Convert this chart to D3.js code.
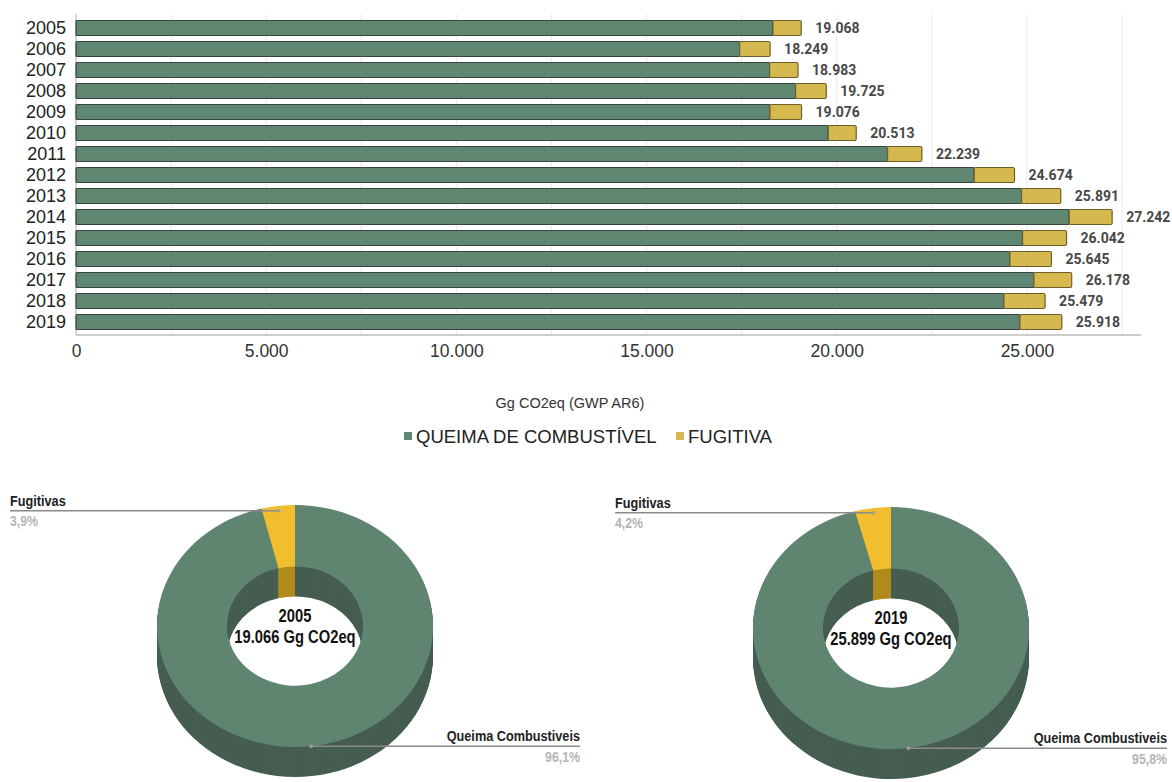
<!DOCTYPE html>
<html>
<head>
<meta charset="utf-8">
<script src="https://cdn.jsdelivr.net/npm/d3@7"></script>
<style>
  html, body { margin: 0; padding: 0; background: #fff; }
  svg { display: block; }
</style>
</head>
<body>
<svg id="chart" width="1172" height="782"></svg>
<script>
// ---------- DATA ----------
const years = ["2005","2006","2007","2008","2009","2010","2011","2012","2013","2014","2015","2016","2017","2018","2019"];
const queima = [18324, 17447, 18236, 18919, 18244, 19777, 21337, 23615, 24860, 26112, 24886, 24553, 25184, 24395, 24816];
const fugitiva = [744, 802, 747, 806, 832, 736, 902, 1059, 1031, 1130, 1156, 1092, 994, 1084, 1102];
const xTickValues = [0, 5000, 10000, 15000, 20000, 25000];
const gridValues = [0, 2500, 5000, 7500, 10000, 12500, 15000, 17500, 20000, 22500, 25000, 27500];
const seriesNames = ["QUEIMA DE COMBUSTÍVEL", "FUGITIVA"];
const axisTitle = "Gg CO2eq (GWP AR6)";

const pieYears = ["2005", "2019"];
const pieTotals = ["19.066 Gg CO2eq", "25.899 Gg CO2eq"];
const pieQueimaShare = [96.1, 95.8];
const pieFugitivaShare = [3.9, 4.2];
const pieLabels = ["Queima Combustiveis", "Fugitivas"];

// ---------- STYLE ----------
const C = {
  green: "#5f8671", yellow: "#d5b94f", barStroke: "#36443b",
  dGreenTop: "#5f8470", dGreenSide: "#465e50",
  dYellowTop: "#f1bf2d", dYellowSide: "#b08b1c"
};
const locale = d3.formatLocale({decimal: ",", thousands: ".", grouping: [3], currency: ["", ""]});
const fmt = locale.format(",d");
const sans = "Liberation Sans, Arial, sans-serif";

const svg = d3.select("#chart");

function condText(parent, x, y, txt, opts) {
  const sx = opts.sx || 0.84;
  return parent.append("text")
    .attr("transform", `translate(${x},${y}) scale(${sx},1)`)
    .attr("text-anchor", opts.anchor || "start")
    .attr("font-family", sans).attr("font-weight", opts.weight || "bold")
    .attr("font-size", opts.size).attr("fill", opts.fill)
    .text(txt);
}

// ---------- BAR CHART ----------
const x = d3.scaleLinear().domain([0, 28000]).range([76, 1141]);
const y = d3.scaleBand().domain(years).range([17.5, 332.5]).paddingInner(0.286).paddingOuter(0.143);
const plotTop = 14, plotBottom = 335;

svg.append("g").selectAll("line").data(gridValues.slice(1)).join("line")
  .attr("x1", d => x(d)).attr("x2", d => x(d))
  .attr("y1", plotTop).attr("y2", plotBottom)
  .attr("stroke", "#ebebeb").attr("stroke-width", 1);
svg.append("line").attr("x1", x(0)).attr("x2", x(0)).attr("y1", plotTop).attr("y2", plotBottom)
  .attr("stroke", "#c8c8c8").attr("stroke-width", 1.5);
svg.append("line").attr("x1", x(0)).attr("x2", x(28000)).attr("y1", plotBottom).attr("y2", plotBottom)
  .attr("stroke", "#bdbdbd").attr("stroke-width", 1.5);

const xAxis = d3.axisBottom(x).tickValues(xTickValues).tickFormat(fmt).tickSize(0).tickPadding(10);
const gx = svg.append("g").attr("transform", `translate(0,${plotBottom})`).call(xAxis);
gx.select(".domain").remove();
gx.selectAll("text").attr("font-family", sans).attr("font-size", 17.5).attr("fill", "#333");

const yAxis = d3.axisLeft(y).tickSize(0).tickPadding(10);
const gy = svg.append("g").attr("transform", `translate(${x(0)},0)`).call(yAxis);
gy.select(".domain").remove();
gy.selectAll("text").attr("font-family", sans).attr("font-size", 18).attr("fill", "#222");

const rows = years.map((yr, i) => ({yr, q: queima[i], f: fugitiva[i]}));
const bars = svg.append("g");
bars.selectAll("rect.q").data(rows).join("rect").attr("class", "q")
  .attr("x", x(0)).attr("y", d => y(d.yr))
  .attr("width", d => x(d.q) - x(0)).attr("height", y.bandwidth())
  .attr("fill", C.green).attr("stroke", C.barStroke).attr("stroke-width", 1.2).attr("rx", 1);
bars.selectAll("rect.f").data(rows).join("rect").attr("class", "f")
  .attr("x", d => x(d.q)).attr("y", d => y(d.yr))
  .attr("width", d => x(d.q + d.f) - x(d.q)).attr("height", y.bandwidth())
  .attr("fill", C.yellow).attr("stroke", "#6e5f2a").attr("stroke-width", 1.2).attr("rx", 1.5);
bars.selectAll("text").data(rows).join("text")
  .attr("x", d => x(d.q + d.f) + 14).attr("y", d => y(d.yr) + y.bandwidth() / 2)
  .attr("dy", "0.35em")
  .attr("font-family", "Roboto, sans-serif").attr("font-weight", "bold").attr("font-size", 14)
  .attr("fill", "#484848").text(d => fmt(d.q + d.f));

// axis title
svg.append("text").attr("x", 570).attr("y", 408).attr("text-anchor", "middle")
  .attr("font-family", sans).attr("font-size", 14.5).attr("fill", "#333")
  .text(axisTitle);

// legend
const legend = svg.append("g").attr("transform", "translate(0,436)");
const legItems = [{name: seriesNames[0], color: C.green, x: 404}, {name: seriesNames[1], color: C.yellow, x: 676}];
legItems.forEach(it => {
  legend.append("rect").attr("x", it.x).attr("y", -4).attr("width", 8).attr("height", 8).attr("fill", it.color);
  legend.append("text").attr("x", it.x + 12).attr("y", 0).attr("dy", "0.36em")
    .attr("font-family", sans).attr("font-size", 18.5).attr("fill", "#222")
    .text(it.name);
});

// ---------- 3D DONUTS ----------
const outerR = 138, innerR = 68, yScale = 121 / 138, depth = 30;
const pieGen = d3.pie().sort(null).value(d => d.v).startAngle(0).endAngle(2 * Math.PI);
const arcGen = d3.arc().innerRadius(innerR).outerRadius(outerR);
const donutCenters = [{cx: 295, cy: 626}, {cx: 891, cy: 628}];
const fugLabelX = [10, 615];
const queimaLabelRight = [580, 1167];
const layers = d3.range(depth, 0, -1);

pieYears.forEach((yr, i) => {
  const {cx, cy} = donutCenters[i];
  const data = [
    {name: pieLabels[0], v: pieQueimaShare[i], top: C.dGreenTop, side: C.dGreenSide},
    {name: pieLabels[1], v: pieFugitivaShare[i], top: C.dYellowTop, side: C.dYellowSide}
  ];
  const arcs = pieGen(data);
  const g = svg.append("g");
  g.selectAll("g.layer").data(layers).join("g").attr("class", "layer")
    .attr("transform", k => `translate(${cx},${cy + k}) scale(1,${yScale})`)
    .selectAll("path").data(arcs).join("path")
    .attr("d", arcGen).attr("fill", d => d.data.side);
  g.append("g").attr("transform", `translate(${cx},${cy}) scale(1,${yScale})`)
    .selectAll("path").data(arcs).join("path")
    .attr("d", arcGen).attr("fill", d => d.data.top);

  condText(g, cx, cy - 4, yr, {anchor: "middle", size: 18, fill: "#111", sx: 0.82});
  condText(g, cx, cy + 17, pieTotals[i], {anchor: "middle", size: 18, fill: "#111", sx: 0.82});

  const anchor = a => {
    const mid = (a.startAngle + a.endAngle) / 2, r = outerR * 0.96;
    return [cx + r * Math.sin(mid), cy - r * Math.cos(mid) * yScale];
  };
  const pf = anchor(arcs[1]);
  const pq = anchor(arcs[0]);
  const pctFmt = v => String(v.toFixed(1)).replace(".", ",") + "%";
  g.append("line").attr("x1", fugLabelX[i]).attr("x2", pf[0]).attr("y1", pf[1]).attr("y2", pf[1])
    .attr("stroke", "#8a8a8a").attr("stroke-width", 1.5);
  g.append("circle").attr("cx", pf[0]).attr("cy", pf[1]).attr("r", 1.8).attr("fill", "#a0a0a0");
  condText(g, fugLabelX[i], pf[1] - 5, data[1].name, {size: 15.5, fill: "#222", sx: 0.82});
  condText(g, fugLabelX[i], pf[1] + 15, pctFmt(data[1].v), {size: 14.5, fill: "#b5b5b5", sx: 0.85});

  g.append("line").attr("x1", pq[0]).attr("x2", queimaLabelRight[i]).attr("y1", pq[1] + 5).attr("y2", pq[1] + 5)
    .attr("stroke", "#8a8a8a").attr("stroke-width", 1.5);
  g.append("circle").attr("cx", pq[0]).attr("cy", pq[1] + 5).attr("r", 1.8).attr("fill", "#a0a0a0");
  condText(g, queimaLabelRight[i], pq[1], data[0].name, {anchor: "end", size: 15.5, fill: "#222", sx: 0.82});
  condText(g, queimaLabelRight[i], pq[1] + 21, pctFmt(data[0].v), {anchor: "end", size: 14.5, fill: "#b5b5b5", sx: 0.85});
});
</script>
</body>
</html>
